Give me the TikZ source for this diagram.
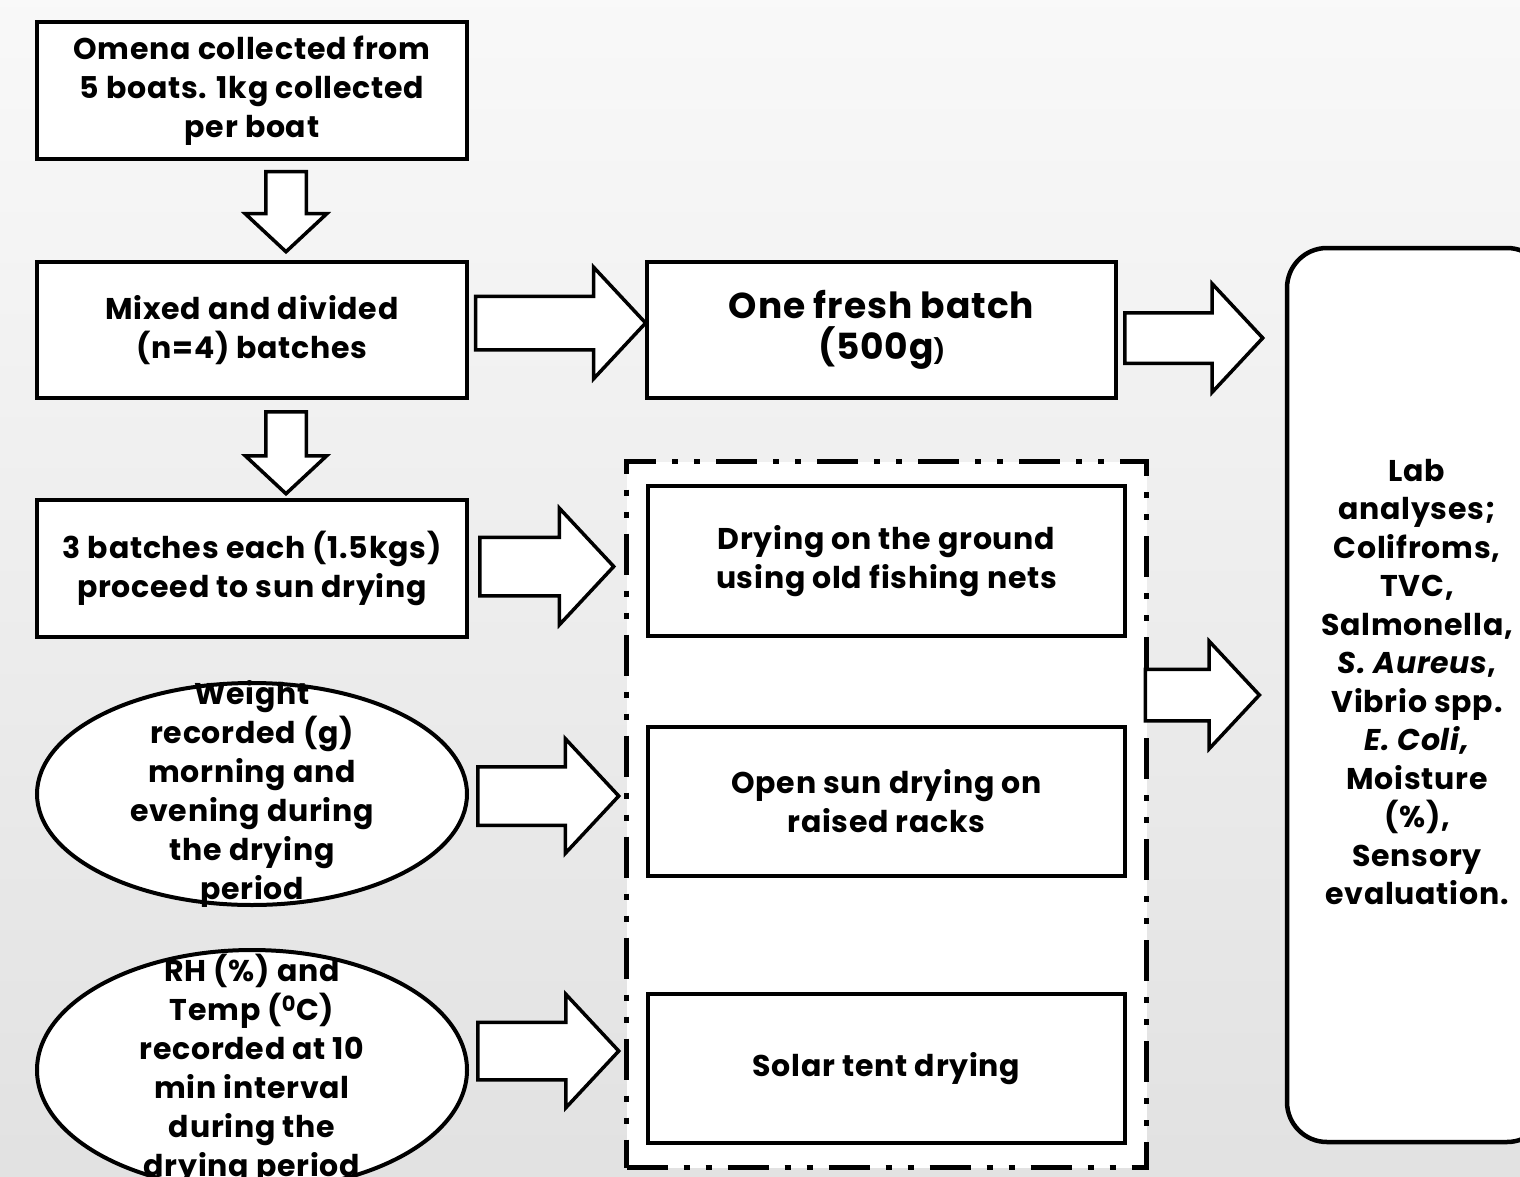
\documentclass[tikz,border=0pt]{standalone}
\usepackage{fontspec}
\setmainfont{Poppins}[LetterSpace=2.5]
\usetikzlibrary{positioning,calc,fit,shapes.geometric,shapes.arrows,backgrounds}
\pgfdeclarelayer{bottom}
\pgfsetlayers{bottom,background,main}

\tikzset{
  stepbox/.style={draw, line width=4pt, fill=white, align=center, inner sep=0pt},
  bubble/.style={ellipse, draw, line width=4pt, fill=white, inner sep=0pt},
  fatarrow/.style n args={3}{single arrow, draw, line width=3.5pt, fill=white,
    inner xsep=0pt, inner ysep=#1/2, minimum width=#2, minimum height=#3,
    single arrow head extend={(#2-#1)/2}, single arrow tip angle=94},
}

\begin{document}
\begin{tikzpicture}[x=1pt,y=-1pt,font=\bfseries\fontsize{30}{39}\selectfont]
\useasboundingbox (0,0) rectangle (1520,1177);
\begin{pgfonlayer}{bottom}
\shade[top color=gray!5, bottom color=gray!23] (0,0) rectangle (1520,1177);
\end{pgfonlayer}

% left column
\node[stepbox, minimum width=430pt, minimum height=137pt] (omena) at (252,90.5) {Omena collected from\\5 boats. 1kg collected\\per boat};
\node[stepbox, minimum width=430pt, minimum height=136pt] (mix) at (252,330) {Mixed and divided\\(n=4) batches};
\node[stepbox, minimum width=430pt, minimum height=137pt] (three) at (252,568.5) {3 batches each (1.5kgs)\\proceed to sun drying};
\node[bubble, minimum width=430pt, minimum height=222pt] (weight) at (252,794) {};
\node[align=center] (weighttxt) at (weight.center) {Weight\\recorded (g)\\morning and\\evening during\\the drying\\period};
\node[bubble, minimum width=430pt, minimum height=240pt] (rh) at (252,1070) {};
\node[align=center] (rhtxt) at (252,1069.5) {RH (\%) and\\Temp (\textsuperscript{0}C)\\recorded at 10\\min interval\\during the\\drying period};

% drying methods
\node[stepbox, minimum width=469pt, minimum height=136pt, font=\bfseries\fontsize{36}{41}\selectfont] (fresh) at (881.5,330) {One fresh batch\\(500g{\fontsize{24}{24}\selectfont)}};
\node[stepbox, minimum width=477pt, minimum height=150pt] (ground) at (886.5,561) {Drying on the ground\\using old fishing nets};
\node[stepbox, minimum width=477pt, minimum height=149pt] (rack) at (886.5,801.5) {Open sun drying on\\raised racks};
\node[stepbox, minimum width=477pt, minimum height=149pt] (solar) at (886.5,1068.5) {Solar tent drying};
\begin{pgfonlayer}{background}
\node[fit=(ground)(solar), inner xsep=19.5pt, inner ysep=22.5pt, draw, fill=white, line width=5pt,
  dash pattern=on 41pt off 16pt on 6pt off 16pt on 6pt off 16pt] (frame) {};
\end{pgfonlayer}

% analyses
\node[draw, line width=4.5pt, fill=white, rounded corners=40pt, minimum width=260pt, minimum height=894pt] (lab) at (1417,695) {};
\node[align=center, font=\bfseries\fontsize{30}{38.5}\selectfont] (labtxt) at ($(lab.center)+(0,-13)$)
  {Lab\\analyses;\\Colifroms,\\TVC,\\Salmonella,\\\textit{S. Aureus},\\Vibrio spp.\\\textit{E. Coli,}\\Moisture\\(\%),\\Sensory\\evaluation.};

% block arrows
\node[fatarrow={37pt}{78pt}{80pt}, rotate=-90, anchor=tail] (a1) at ($(omena.south)+(34,9)$) {};
\node[fatarrow={37pt}{78pt}{82pt}, rotate=-90, anchor=tail] (a2) at ($(mix.south)+(34,10)$) {};
\node[fatarrow={50pt}{108pt}{170pt}, anchor=tip] (a3) at ($(fresh.west)+(3,-7)$) {};
\node[fatarrow={47pt}{105pt}{138pt}, anchor=tail] (a4) at ($(fresh.east)+(5,8)$) {};
\node[fatarrow={55pt}{113pt}{134pt}, anchor=tail] (a5) at ($(three.east)+(9,-2)$) {};
\node[fatarrow={55pt}{111pt}{141pt}, anchor=tail] (a6) at ($(weight.east)+(7,2)$) {};
\node[fatarrow={54pt}{110pt}{141pt}, anchor=tail] (a7) at ($(rh.east)+(7,-19)$) {};
\node[fatarrow={48pt}{104pt}{114pt}, anchor=tip] (a8) at ($(lab.west)+(-23,0)$) {};

\end{tikzpicture}
\end{document}
